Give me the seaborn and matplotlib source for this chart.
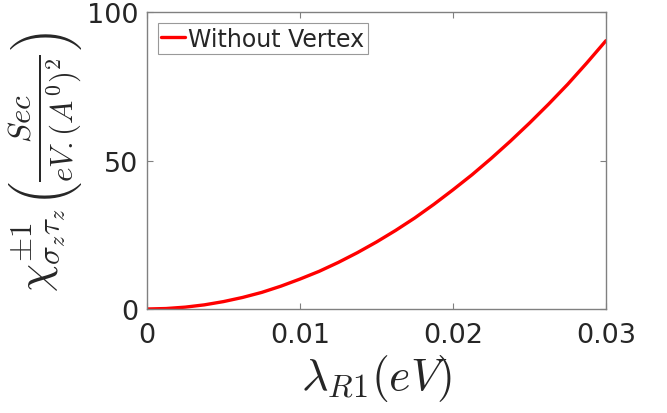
import matplotlib
matplotlib.use("Agg")
import matplotlib.pyplot as plt
import seaborn as sns
import pandas as pd

lam = [0, 0.00125, 0.0025, 0.00375, 0.005, 0.00625, 0.0075, 0.00875, 0.01,
       0.01125, 0.0125, 0.01375, 0.015, 0.01625, 0.0175, 0.01875, 0.02,
       0.02125, 0.0225, 0.02375, 0.025, 0.02625, 0.0275, 0.02875, 0.03]
chi = [0, 0.16, 0.63, 1.4, 2.5, 3.9, 5.6, 7.7, 10.1,
       12.7, 15.7, 19.0, 22.6, 26.5, 30.7, 35.3, 40.2,
       45.3, 50.8, 56.6, 62.7, 69.1, 75.8, 83.0, 90.5]
series_name = "Without Vertex"
xticks = [0, 0.01, 0.02, 0.03]
xticklabels = ["0", "0.01", "0.02", "0.03"]
yticks = [0, 50, 100]

df = pd.DataFrame({"x": lam, "y": chi, "s": series_name})

sns.set_style("white")
plt.rcParams["font.family"] = ["DejaVu Sans"]
plt.rcParams["mathtext.fontset"] = "cm"

fig = plt.figure(figsize=(6.67, 4.14), dpi=100)
ax = fig.add_axes([0.2204, 0.2512, 0.9085 - 0.2204, 0.9674 - 0.2512])
sns.lineplot(data=df, x="x", y="y", hue="s", palette=["#ff0000"], linewidth=2.4, ax=ax)

ax.set_xlim(0, 0.03)
ax.set_ylim(0, 100)
ax.set_xticks(xticks)
ax.set_xticklabels(xticklabels)
ax.set_yticks(yticks)
ax.tick_params(direction="in", length=4, width=0.8, colors="#808080",
               labelcolor="#262626", labelsize=19.5, top=True, right=True,
               bottom=True, left=True)
ax.tick_params(axis="x", pad=9)
ax.tick_params(axis="y", pad=6)
for sp in ax.spines.values():
    sp.set_color("#808080")
    sp.set_linewidth(1.0)

ax.set_xlabel(r"$\lambda_{R1}(eV)$", fontsize=33, color="#262626", labelpad=3)
ax.set_ylabel(r"$\chi^{\pm 1}_{\sigma_z\tau_z}\left(\frac{Sec}{eV.(A^0)^2}\right)$",
              fontsize=32, color="#262626", labelpad=2)

leg = ax.legend(loc="upper left", fontsize=17, frameon=True, fancybox=False,
                handlelength=1.0, handletextpad=0.15, borderpad=0.15,
                borderaxespad=0.45)
leg.get_frame().set_edgecolor("#808080")
leg.get_frame().set_linewidth(0.8)

fig.savefig("out.png", dpi=100)
